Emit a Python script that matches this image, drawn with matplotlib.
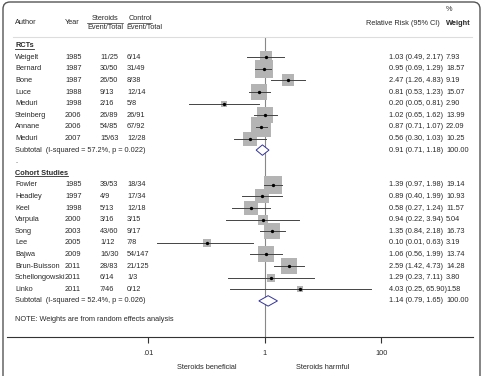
import numpy as np
import matplotlib
matplotlib.use("Agg")
import matplotlib.pyplot as plt
from matplotlib.patches import FancyBboxPatch
from matplotlib import transforms

plt.rcParams['font.family'] = ['Liberation Sans', 'DejaVu Sans']

# RCTs
authors_rct = ["Weigelt", "Bernard", "Bone", "Luce", "Meduri", "Steinberg", "Annane", "Meduri"]
years_rct = [1985, 1987, 1987, 1988, 1998, 2006, 2006, 2007]
ster_rct = ["11/25", "30/50", "26/50", "9/13", "2/16", "26/89", "54/85", "15/63"]
ctrl_rct = ["6/14", "31/49", "8/38", "12/14", "5/8", "26/91", "67/92", "12/28"]
rr_rct = [1.03, 0.95, 2.47, 0.81, 0.20, 1.02, 0.87, 0.56]
lo_rct = [0.49, 0.69, 1.26, 0.53, 0.05, 0.65, 0.71, 0.30]
hi_rct = [2.17, 1.29, 4.83, 1.23, 0.81, 1.62, 1.07, 1.03]
w_rct = [7.93, 18.57, 9.19, 15.07, 2.90, 13.99, 22.09, 10.25]
sub_rct = (0.91, 0.71, 1.18)
het_rct = "Subtotal  (I-squared = 57.2%, p = 0.022)"

# Cohort studies
authors_coh = ["Fowler", "Headley", "Keel", "Varpula", "Song", "Lee", "Bajwa",
               "Brun-Buisson", "Schellongowski", "Linko"]
years_coh = [1985, 1997, 1998, 2000, 2003, 2005, 2009, 2011, 2011, 2011]
ster_coh = ["39/53", "4/9", "5/13", "3/16", "43/60", "1/12", "16/30", "28/83", "6/14", "7/46"]
ctrl_coh = ["18/34", "17/34", "12/18", "3/15", "9/17", "7/8", "54/147", "21/125", "1/3", "0/12"]
rr_coh = [1.39, 0.89, 0.58, 0.94, 1.35, 0.10, 1.06, 2.59, 1.29, 4.03]
lo_coh = [0.97, 0.40, 0.27, 0.22, 0.84, 0.014, 0.56, 1.42, 0.23, 0.25]
hi_coh = [1.98, 1.99, 1.24, 3.94, 2.18, 0.63, 1.99, 4.73, 7.11, 65.90]
w_coh = [19.14, 10.93, 11.57, 5.04, 16.73, 3.19, 13.74, 14.28, 3.80, 1.58]
sub_coh = (1.14, 0.79, 1.65)
het_coh = "Subtotal  (I-squared = 52.4%, p = 0.026)"

xticks = [0.01, 1, 100]
xtick_labels = [".01", "1", "100"]

fs = 5.35
tc = '#2a2a2a'

fig = plt.figure(figsize=(4.86, 3.76), dpi=100)
# background axes in pixel coordinates for frame and text columns
bg = fig.add_axes([0, 0, 1, 1])
bg.set_xlim(0, 486)
bg.set_ylim(376, 0)
bg.axis('off')
bg.add_patch(FancyBboxPatch((3, 2), 477, 400, boxstyle="round,pad=0,rounding_size=7",
                            ec='#555555', fc='white', lw=1.0))

# forest axes (log scale), pixel geometry: 1 at x=264.8, 58.25 px per decade
x0, dec = 264.8, 58.25
row0, rowh = 45.7, 11.6
ax = fig.add_axes([7 / 486, (376 - 337) / 376, (473 - 7) / 486, 337 / 376])
ax.patch.set_alpha(0)
ax.set_xscale('log')
ax.set_xlim(10 ** ((7 - x0) / dec), 10 ** ((473 - x0) / dec))
ax.set_ylim((337 - row0) / rowh, (0 - row0) / rowh)
for s in ['top', 'left', 'right']:
    ax.spines[s].set_visible(False)
ax.spines['bottom'].set_color('#333333')
ax.spines['bottom'].set_linewidth(0.8)
ax.set_yticks([])
ax.minorticks_off()
ax.set_xticks(xticks)
ax.set_xticklabels(xtick_labels)
ax.tick_params(axis='x', direction='out', length=4, width=0.8, color='#333333',
               labelsize=fs, pad=5.5, labelcolor=tc)

tr = transforms.blended_transform_factory(bg.transData, ax.transData)
trx = transforms.blended_transform_factory(ax.transData, bg.transData)

col_author, col_year, col_st, col_ct, col_rr, col_w = 15, 65, 100, 127, 389, 446

# header
sep_row = (36.7 - row0) / rowh
ax.text(col_author, -1.97, "Author", transform=tr, fontsize=fs, va='center', color=tc)
ax.text(col_year, -1.97, "Year", transform=tr, fontsize=fs, va='center', color=tc)
ax.text(105, -2.33, "Steroids", transform=tr, fontsize=fs, va='center', ha='center', color=tc)
ax.text(105, -1.59, "Event/Total", transform=tr, fontsize=fs, va='center', ha='center', color=tc)
ax.text(140, -2.33, "Control", transform=tr, fontsize=fs, va='center', ha='center', color=tc)
ax.text(144, -1.59, "Event/Total", transform=tr, fontsize=fs, va='center', ha='center', color=tc)
ax.plot([87, 123], [-1.97, -1.97], transform=tr, color='#333333', lw=0.5, clip_on=False)
ax.plot([128, 152], [-1.97, -1.97], transform=tr, color='#333333', lw=0.5, clip_on=False)
ax.text(440, -1.93, "Relative Risk (95% CI)", transform=tr, fontsize=fs, va='center',
        ha='right', color=tc)
ax.text(col_w, -3.14, "%", transform=tr, fontsize=fs, va='center', color=tc)
ax.text(col_w, -1.93, "Weight", transform=tr, fontsize=fs, va='center', color=tc,
        fontweight='bold')
ax.plot([13, 472], [sep_row, sep_row], transform=tr, color='#dddddd', lw=0.8, clip_on=False)

# null line
ax.vlines(1, sep_row, (337 - row0) / rowh, color='#888888', lw=0.8, zorder=1)

headings = []


def draw_group(start, title, authors, years, ster, ctrl, rr, lo, hi, w, sub, het):
    t = ax.text(col_author, start, title, transform=tr, fontsize=fs, va='center',
                fontweight='bold', color=tc)
    headings.append((t, start))
    for i in range(len(authors)):
        y = start + 1 + i
        ax.text(col_author, y, authors[i], transform=tr, fontsize=fs, va='center', color=tc)
        ax.text(col_year, y, str(years[i]), transform=tr, fontsize=fs, va='center', color=tc)
        ax.text(col_st, y, ster[i], transform=tr, fontsize=fs, va='center', color=tc)
        ax.text(col_ct, y, ctrl[i], transform=tr, fontsize=fs, va='center', color=tc)
        ax.text(col_rr, y, f"{rr[i]:.2f} ({lo[i]:.2f}, {hi[i]:.2f})", transform=tr,
                fontsize=fs, va='center', color=tc)
        ax.text(col_w, y, f"{w[i]:.2f}", transform=tr, fontsize=fs, va='center', color=tc)
        ax.plot([rr[i]], [y], marker='s', ms=4.1 * np.sqrt(w[i]) * 0.72, mew=0,
                color='#b4b4b4', zorder=2, clip_on=False)
        ax.plot([lo[i], hi[i]], [y, y], color='#444444', lw=0.7, zorder=3)
        ax.plot([rr[i]], [y], marker='o', ms=2.4, color='black', mew=0, zorder=4)
    y = start + 1 + len(authors)
    ax.text(col_author, y, het, transform=tr, fontsize=fs, va='center', color=tc)
    ax.text(col_rr, y, f"{sub[0]:.2f} ({sub[1]:.2f}, {sub[2]:.2f})", transform=tr,
            fontsize=fs, va='center', color=tc)
    ax.text(col_w, y, "100.00", transform=tr, fontsize=fs, va='center', color=tc)
    h = 0.45
    ax.fill([sub[1], sub[0], sub[2], sub[0]], [y, y - h, y, y + h], facecolor='white',
            edgecolor='#33339a', lw=0.7, zorder=3)
    return y


end1 = draw_group(0, "RCTs", authors_rct, years_rct, ster_rct, ctrl_rct,
                  rr_rct, lo_rct, hi_rct, w_rct, sub_rct, het_rct)
ax.text(col_author, end1 + 1, ".", transform=tr, fontsize=fs, va='center', color=tc)
end2 = draw_group(end1 + 2, "Cohort Studies", authors_coh, years_coh, ster_coh, ctrl_coh,
                  rr_coh, lo_coh, hi_coh, w_coh, sub_coh, het_coh)
ax.text(col_author, end2 + 1.6, "NOTE: Weights are from random effects analysis",
        transform=tr, fontsize=fs, va='center', color=tc)

# axis captions
ax.text(0.1, 367.5, "Steroids beneficial", transform=trx, fontsize=fs, ha='center',
        va='center', color=tc)
ax.text(10, 367.5, "Steroids harmful", transform=trx, fontsize=fs, ha='center',
        va='center', color=tc)

# underline group headings
fig.canvas.draw()
renderer = fig.canvas.get_renderer()
for t, y in headings:
    bb = t.get_window_extent(renderer)
    x_left, x_right = bg.transData.inverted().transform([[bb.x0, 0], [bb.x1, 0]])[:, 0]
    ax.plot([x_left, x_right], [y + 0.25, y + 0.25], transform=tr, color=tc, lw=0.6,
            clip_on=False)

fig.savefig("out.png", dpi=100)
